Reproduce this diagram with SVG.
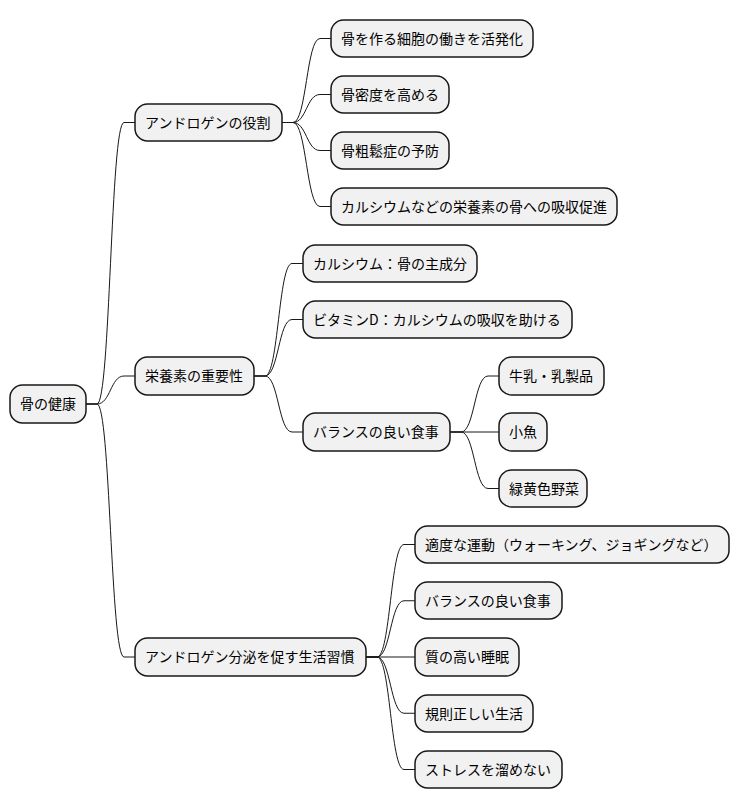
<svg xmlns="http://www.w3.org/2000/svg" width="740" height="809" viewBox="0 0 740 809">
<style>
.n rect{fill:#F1F1F1;stroke:#181818;stroke-width:1.5}
.n text{font-family:"Noto Sans CJK JP","Noto Sans",sans-serif;font-size:14px;fill:#000}
#edges path{fill:none;stroke:#181818;stroke-width:1}
</style>
<rect width="740" height="809" fill="#FFFFFF"/>
<g id="edges">
<path d="M86,404 L97,404 C110.5,404 110.5,122.5 124,122.5 L135,122.5"/>
<path d="M86,404 L97,404 C110.5,404 110.5,376 124,376 L135,376"/>
<path d="M86,404 L97,404 C110.5,404 110.5,657 124,657 L135,657"/>
<path d="M282,122.5 L293,122.5 C306.5,122.5 306.5,38.5 320,38.5 L331,38.5"/>
<path d="M282,122.5 L293,122.5 C306.5,122.5 306.5,94.5 320,94.5 L331,94.5"/>
<path d="M282,122.5 L293,122.5 C306.5,122.5 306.5,150.5 320,150.5 L331,150.5"/>
<path d="M282,122.5 L293,122.5 C306.5,122.5 306.5,206.5 320,206.5 L331,206.5"/>
<path d="M254,376 L265,376 C278.5,376 278.5,263.5 292,263.5 L303,263.5"/>
<path d="M254,376 L265,376 C278.5,376 278.5,319.5 292,319.5 L303,319.5"/>
<path d="M254,376 L265,376 C278.5,376 278.5,432 292,432 L303,432"/>
<path d="M450,432 L461,432 C474.5,432 474.5,376 488,376 L499,376"/>
<path d="M450,432 L499,432"/>
<path d="M450,432 L461,432 C474.5,432 474.5,488.5 488,488.5 L499,488.5"/>
<path d="M366,657 L377,657 C390.5,657 390.5,544.5 404,544.5 L415,544.5"/>
<path d="M366,657 L377,657 C390.5,657 390.5,600.75 404,600.75 L415,600.75"/>
<path d="M366,657 L415,657"/>
<path d="M366,657 L377,657 C390.5,657 390.5,713.25 404,713.25 L415,713.25"/>
<path d="M366,657 L377,657 C390.5,657 390.5,769.5 404,769.5 L415,769.5"/>
</g>
<g id="root" class="n"><rect x="10" y="385" width="76" height="38" rx="12.5"/><text x="20" y="409">骨の健康</text></g>
<g id="n1" class="n"><rect x="135" y="104" width="147" height="37" rx="12.5"/><text x="145" y="127.5">アンドロゲンの役割</text></g>
<g id="n2" class="n"><rect x="135" y="357" width="119" height="38" rx="12.5"/><text x="145" y="381">栄養素の重要性</text></g>
<g id="n3" class="n"><rect x="135" y="638" width="231" height="38" rx="12.5"/><text x="145" y="662">アンドロゲン分泌を促す生活習慣</text></g>
<g id="n1a" class="n"><rect x="331" y="20" width="202" height="37" rx="12.5"/><text x="341" y="43.5">骨を作る細胞の働きを活発化</text></g>
<g id="n1b" class="n"><rect x="331" y="76" width="118" height="37" rx="12.5"/><text x="341" y="99.5">骨密度を高める</text></g>
<g id="n1c" class="n"><rect x="331" y="132" width="118" height="37" rx="12.5"/><text x="341" y="155.5">骨粗鬆症の予防</text></g>
<g id="n1d" class="n"><rect x="331" y="188" width="286" height="37" rx="12.5"/><text x="341" y="211.5">カルシウムなどの栄養素の骨への吸収促進</text></g>
<g id="n2a" class="n"><rect x="303" y="245" width="174" height="37" rx="12.5"/><text x="313" y="268.5">カルシウム：骨の主成分</text></g>
<g id="n2b" class="n"><rect x="303" y="301" width="269" height="37" rx="12.5"/><text x="313" y="324.5">ビタミンD：カルシウムの吸収を助ける</text></g>
<g id="n2c" class="n"><rect x="303" y="413" width="147" height="38" rx="12.5"/><text x="313" y="437">バランスの良い食事</text></g>
<g id="n2c1" class="n"><rect x="499" y="357" width="105" height="38" rx="12.5"/><text x="509" y="381">牛乳・乳製品</text></g>
<g id="n2c2" class="n"><rect x="499" y="413" width="48" height="38" rx="12.5"/><text x="509" y="437">小魚</text></g>
<g id="n2c3" class="n"><rect x="499" y="470" width="88" height="37" rx="12.5"/><text x="509" y="493.5">緑黄色野菜</text></g>
<g id="n3a" class="n"><rect x="415" y="526" width="314" height="37" rx="12.5"/><text x="425" y="549.5">適度な運動（ウォーキング、ジョギングなど）</text></g>
<g id="n3b" class="n"><rect x="415" y="582" width="147" height="37" rx="12.5"/><text x="425" y="605.5">バランスの良い食事</text></g>
<g id="n3c" class="n"><rect x="415" y="638" width="104" height="38" rx="12.5"/><text x="425" y="662">質の高い睡眠</text></g>
<g id="n3d" class="n"><rect x="415" y="695" width="118" height="37" rx="12.5"/><text x="425" y="718.5">規則正しい生活</text></g>
<g id="n3e" class="n"><rect x="415" y="751" width="147" height="37" rx="12.5"/><text x="425" y="774.5">ストレスを溜めない</text></g>
</svg>
